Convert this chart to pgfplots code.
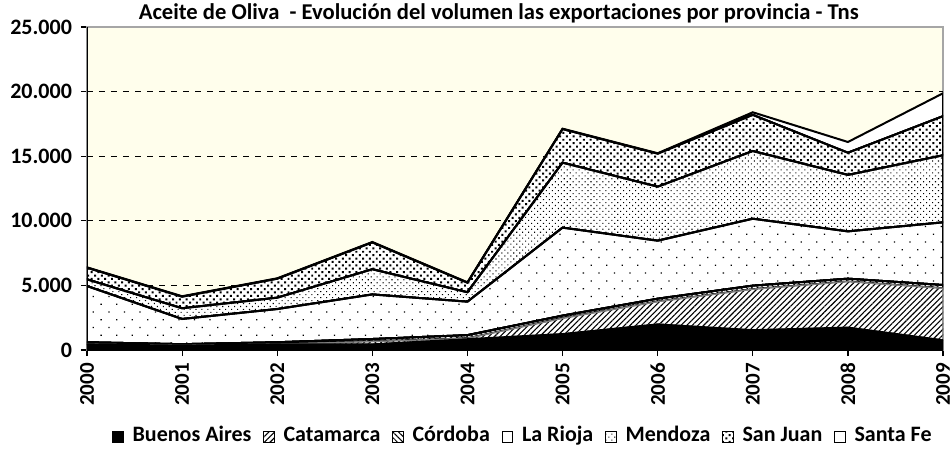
\documentclass[border=0pt]{standalone}
\usepackage{fontspec}
\setmainfont{Carlito}
\usepackage{pgfplots}
\pgfplotsset{compat=1.18}
\usetikzlibrary{patterns.meta}
\definecolor{bgyel}{RGB}{255,254,236}
\begin{document}
\begin{tikzpicture}
\path[use as bounding box] (-43.5pt,-51pt) rectangle (432.5pt,175pt);
\begin{axis}[
  scale only axis, width=428pt, height=161.5pt,
  xmin=0, xmax=9, ymin=0, ymax=25000,
  stack plots=y,
  axis background/.style={fill=bgyel},
  axis line style={gray!70, line width=0.6pt},
  xtick={0,1,2,3,4,5,6,7,8,9},
  xticklabels={2000,2001,2002,2003,2004,2005,2006,2007,2008,2009},
  ytick={0,5000,10000,15000,20000,25000},
  extra y ticks={5000,10000,15000,20000},
  extra y tick labels={},
  extra y tick style={grid=major, major tick length=0pt, grid style={dashed, black, line width=0.5pt}},
  tick align=outside, major tick length=3pt,
  xtick pos=bottom, ytick pos=left,
  tick style={black, line width=0.6pt},
  /pgf/number format/assume math mode=true,
  /pgf/number format/1000 sep={.},
  scaled y ticks=false,
  yticklabel style={font=\bfseries\fontsize{11}{11}\selectfont, xshift=-1pt},
  xticklabel style={font=\bfseries\fontsize{10.5}{10.5}\selectfont, rotate=90, anchor=east, inner ysep=0.5pt},
  title={Aceite de Oliva\ \ - Evolución del volumen las exportaciones por provincia - Tns},
  title style={font=\bfseries\fontsize{11.3}{12}\selectfont, at={(0.481,1)}, anchor=south, yshift=-6pt, inner sep=2pt},
  legend columns=-1,
  legend style={draw=none, fill=none, at={(0.5105,-0.269)}, anchor=center,
    font=\bfseries\fontsize{11}{12}\selectfont,
    nodes={text height=7.5pt, text depth=2.5pt},
    /tikz/every odd column/.append style={column sep=2.5pt},
    /tikz/every even column/.append style={column sep=4pt}},
  legend image code/.code={\draw[#1, line width=0.4pt, draw=black] (0pt,-2.6pt) rectangle (5.2pt,2.6pt);},
]
\addplot[fill=black, draw=black, line width=0.8pt] coordinates {(0,450) (1,350) (2,450) (3,450) (4,850) (5,1250) (6,2000) (7,1550) (8,1750) (9,770)} \closedcycle;
\addlegendentry{Buenos Aires}
\addplot[fill=white, postaction={pattern={Lines[angle=45, distance=2pt, line width=0.55pt]}}, draw=gray, line width=0.6pt] coordinates {(0,0) (1,0) (2,0) (3,200) (4,50) (5,1200) (6,1740) (7,3150) (8,3540) (9,4000)} \closedcycle;
\addlegendentry{Catamarca}
\addplot[fill=white, postaction={pattern={Lines[angle=-45, distance=2pt, line width=0.5pt]}}, draw=black, line width=1pt] coordinates {(0,150) (1,100) (2,150) (3,200) (4,250) (5,210) (6,230) (7,280) (8,230) (9,260)} \closedcycle;
\addlegendentry{Córdoba}
\addplot[fill=white, postaction={pattern={Dots[angle=45, distance=5.5pt, radius=0.45pt]}}, draw=black, line width=1pt] coordinates {(0,4350) (1,1950) (2,2570) (3,3450) (4,2590) (5,6810) (6,4490) (7,5180) (8,3660) (9,4850)} \closedcycle;
\addlegendentry{La Rioja}
\addplot[fill=white, postaction={pattern={Dots[angle=45, distance=2.1pt, radius=0.38pt]}}, draw=black, line width=1pt] coordinates {(0,520) (1,830) (2,880) (3,1950) (4,730) (5,5030) (6,4180) (7,5240) (8,4370) (9,5190)} \closedcycle;
\addlegendentry{Mendoza}
\addplot[fill=white, postaction={pattern={Dots[angle=45, distance=2.4pt, radius=0.7pt]}}, draw=black, line width=1pt] coordinates {(0,900) (1,900) (2,1470) (3,2080) (4,740) (5,2600) (6,2560) (7,2800) (8,1720) (9,3030)} \closedcycle;
\addlegendentry{San Juan}
\addplot[fill=white, draw=black, line width=1pt] coordinates {(0,30) (1,30) (2,30) (3,30) (4,30) (5,30) (6,30) (7,200) (8,830) (9,1770)} \closedcycle;
\addlegendentry{Santa Fe}
\draw[black, line width=0.8pt] (rel axis cs:0,1) -- (rel axis cs:0,0) -- (rel axis cs:1,0);
\end{axis}
\end{tikzpicture}
\end{document}
